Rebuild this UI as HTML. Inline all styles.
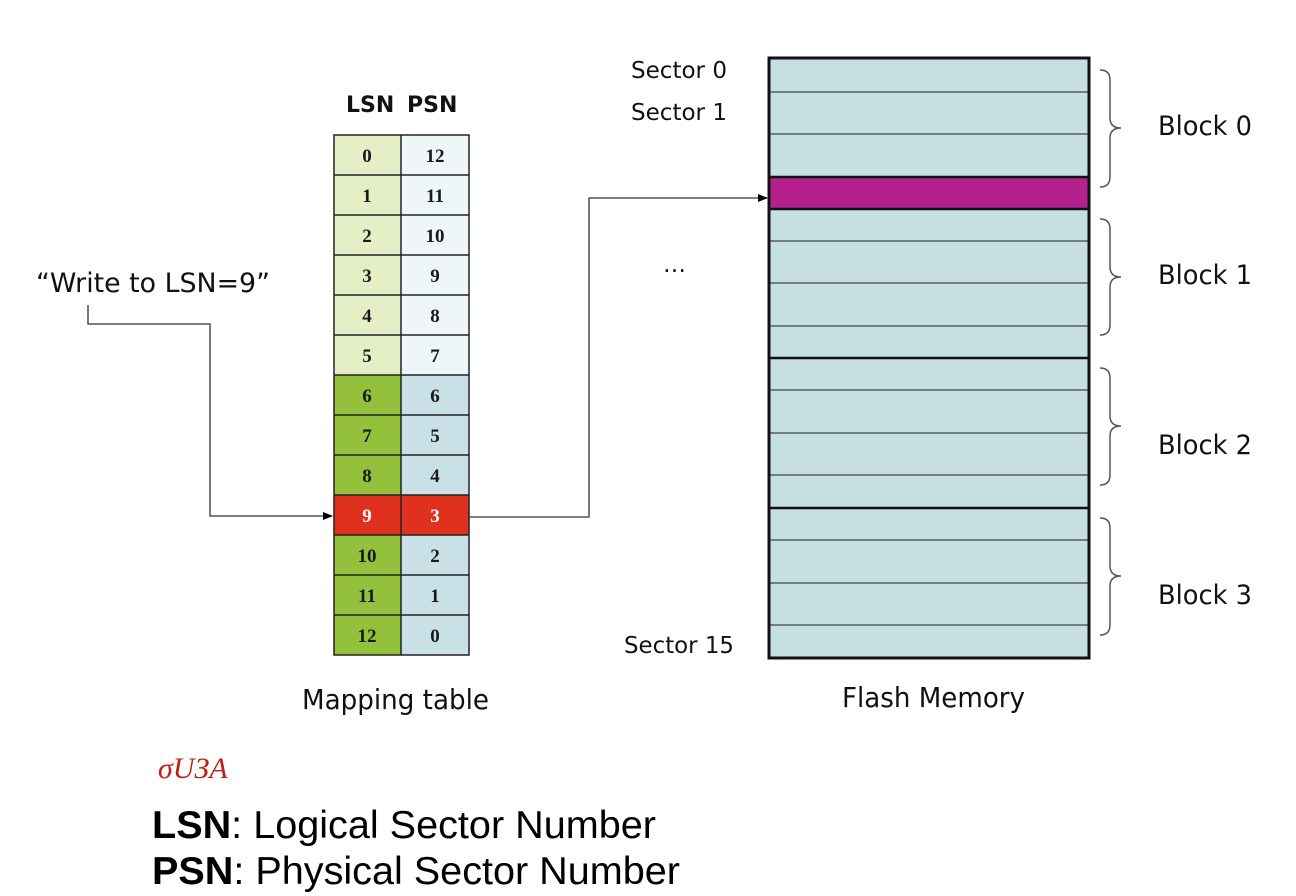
<!DOCTYPE html>
<html><head><meta charset="utf-8"><style>
html,body{margin:0;padding:0;background:#fff;}
svg{display:block;}
.s{font-family:"DejaVu Sans","Liberation Sans",sans-serif;fill:#111;}
.n{font-family:"Liberation Serif",serif;font-weight:bold;font-size:19px;fill:#1a1a1a;text-anchor:middle;}
.a{font-family:"Liberation Sans",sans-serif;font-size:39px;fill:#000;}
</style></head><body>
<svg width="1296" height="896" viewBox="0 0 1296 896" xmlns="http://www.w3.org/2000/svg">
<defs><marker id="ar" markerWidth="10" markerHeight="8" refX="9" refY="4" orient="auto" markerUnits="userSpaceOnUse"><path d="M0,0 L10,4 L0,8 z" fill="#000"/></marker></defs>
<text x="346" y="112" font-family="DejaVu Sans,sans-serif" font-weight="bold" font-size="22" fill="#111">LSN</text>
<text x="407" y="112" font-family="DejaVu Sans,sans-serif" font-weight="bold" font-size="22" fill="#111">PSN</text>
<g id="tbl">
<rect x="334" y="135" width="67" height="240" fill="#e4efc6"/>
<rect x="401" y="135" width="68" height="240" fill="#eef6f8"/>
<rect x="334" y="375" width="67" height="280" fill="#93c13c"/>
<rect x="401" y="375" width="68" height="280" fill="#c8e0e6"/>
<rect x="334" y="495" width="135" height="40" fill="#e0301e"/>
<g stroke="#222" stroke-width="1.5" fill="none">
<rect x="334" y="135" width="135" height="520"/>
<line x1="401" y1="135" x2="401" y2="655"/>
<line x1="334" y1="175" x2="469" y2="175"/><line x1="334" y1="215" x2="469" y2="215"/>
<line x1="334" y1="255" x2="469" y2="255"/><line x1="334" y1="295" x2="469" y2="295"/>
<line x1="334" y1="335" x2="469" y2="335"/><line x1="334" y1="375" x2="469" y2="375"/>
<line x1="334" y1="415" x2="469" y2="415"/><line x1="334" y1="455" x2="469" y2="455"/>
<line x1="334" y1="495" x2="469" y2="495"/><line x1="334" y1="535" x2="469" y2="535"/>
<line x1="334" y1="575" x2="469" y2="575"/><line x1="334" y1="615" x2="469" y2="615"/>
</g>
<text class="n" x="367" y="162">0</text><text class="n" x="435" y="162">12</text>
<text class="n" x="367" y="202">1</text><text class="n" x="435" y="202">11</text>
<text class="n" x="367" y="242">2</text><text class="n" x="435" y="242">10</text>
<text class="n" x="367" y="282">3</text><text class="n" x="435" y="282">9</text>
<text class="n" x="367" y="322">4</text><text class="n" x="435" y="322">8</text>
<text class="n" x="367" y="362">5</text><text class="n" x="435" y="362">7</text>
<text class="n" x="367" y="402">6</text><text class="n" x="435" y="402">6</text>
<text class="n" x="367" y="442">7</text><text class="n" x="435" y="442">5</text>
<text class="n" x="367" y="482">8</text><text class="n" x="435" y="482">4</text>
<text class="n" x="367" y="522" style="fill:#fff">9</text><text class="n" x="435" y="522" style="fill:#fff">3</text>
<text class="n" x="367" y="562">10</text><text class="n" x="435" y="562">2</text>
<text class="n" x="367" y="602">11</text><text class="n" x="435" y="602">1</text>
<text class="n" x="367" y="642">12</text><text class="n" x="435" y="642">0</text>
</g>
<text class="s" x="36" y="292" style="font-size:27px" textLength="234" lengthAdjust="spacingAndGlyphs">“Write to LSN=9”</text>
<polyline points="88,305 88,324 210,324 210,516 332,516" fill="none" stroke="#333" stroke-width="1.3" marker-end="url(#ar)"/>
<polyline points="469,517 589,517 589,198 767,198" fill="none" stroke="#333" stroke-width="1.3" marker-end="url(#ar)"/>
<rect x="769" y="58" width="320" height="600" fill="#c5dfe3"/>
<rect x="769" y="177" width="320" height="32" fill="#b5208f"/>
<g stroke="#444" stroke-width="1.3">
<line x1="769" y1="92" x2="1089" y2="92"/><line x1="769" y1="134" x2="1089" y2="134"/>
<line x1="769" y1="241" x2="1089" y2="241"/><line x1="769" y1="283" x2="1089" y2="283"/><line x1="769" y1="326" x2="1089" y2="326"/>
<line x1="769" y1="390" x2="1089" y2="390"/><line x1="769" y1="433" x2="1089" y2="433"/><line x1="769" y1="475" x2="1089" y2="475"/>
<line x1="769" y1="540" x2="1089" y2="540"/><line x1="769" y1="583" x2="1089" y2="583"/><line x1="769" y1="625" x2="1089" y2="625"/>
</g>
<g stroke="#111" stroke-width="2.5">
<line x1="769" y1="177" x2="1089" y2="177"/><line x1="769" y1="209" x2="1089" y2="209"/>
<line x1="769" y1="358" x2="1089" y2="358"/><line x1="769" y1="508" x2="1089" y2="508"/>
</g>
<rect x="769" y="58" width="320" height="600" fill="none" stroke="#111" stroke-width="3"/>
<g fill="none" stroke="#555" stroke-width="1.5">
<path d="M1100,70 q10,0 10,10 v38 q0,10 11,10 q-11,0 -11,10 v39 q0,10 -10,10"/>
<path d="M1100,219 q10,0 10,10 v38 q0,10 11,10 q-11,0 -11,10 v38 q0,10 -10,10"/>
<path d="M1100,368 q10,0 10,10 v38 q0,10 11,10 q-11,0 -11,10 v39 q0,10 -10,10"/>
<path d="M1100,518 q10,0 10,10 v38 q0,10 11,10 q-11,0 -11,10 v39 q0,10 -10,10"/>
</g>
<text class="s" x="1158" y="135" style="font-size:27px" textLength="94" lengthAdjust="spacingAndGlyphs">Block 0</text>
<text class="s" x="1158" y="284" style="font-size:27px" textLength="94" lengthAdjust="spacingAndGlyphs">Block 1</text>
<text class="s" x="1158" y="454" style="font-size:27px" textLength="94" lengthAdjust="spacingAndGlyphs">Block 2</text>
<text class="s" x="1158" y="604" style="font-size:27px" textLength="94" lengthAdjust="spacingAndGlyphs">Block 3</text>
<text class="s" x="631" y="78" style="font-size:23px" textLength="96" lengthAdjust="spacingAndGlyphs">Sector 0</text>
<text class="s" x="631" y="120" style="font-size:23px" textLength="96" lengthAdjust="spacingAndGlyphs">Sector 1</text>
<text class="s" x="663" y="272" style="font-size:23px">…</text>
<text class="s" x="624" y="653" style="font-size:23px" textLength="110" lengthAdjust="spacingAndGlyphs">Sector 15</text>
<text class="s" x="302" y="709" style="font-size:28px" textLength="187" lengthAdjust="spacingAndGlyphs">Mapping table</text>
<text class="s" x="842" y="707" style="font-size:28px" textLength="183" lengthAdjust="spacingAndGlyphs">Flash Memory</text>
<text x="158" y="778" font-family="Liberation Serif,serif" font-style="italic" font-size="30" fill="#c0201a">σUЗA</text>
<text class="a" x="152" y="838" textLength="504" lengthAdjust="spacingAndGlyphs"><tspan font-weight="bold">LSN</tspan>: Logical Sector Number</text>
<text class="a" x="152" y="884" textLength="528" lengthAdjust="spacingAndGlyphs"><tspan font-weight="bold">PSN</tspan>: Physical Sector Number</text>
</svg>
</body></html>
